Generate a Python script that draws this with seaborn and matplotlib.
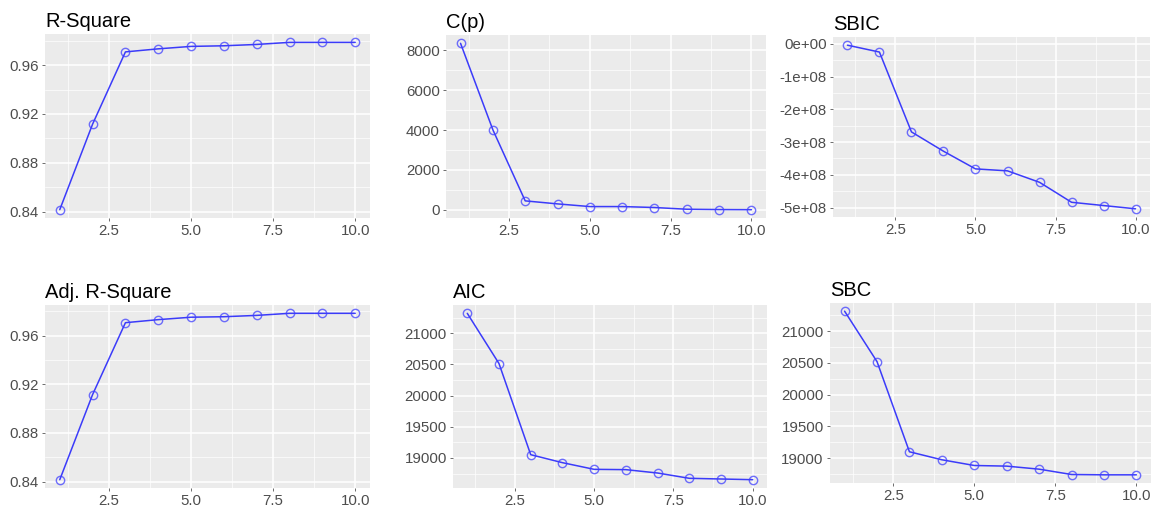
import numpy as np
import pandas as pd
import matplotlib
matplotlib.use("Agg")
import matplotlib.pyplot as plt
from matplotlib.ticker import FixedLocator, FuncFormatter
import seaborn as sns

n_predictors = [1, 2, 3, 4, 5, 6, 7, 8, 9, 10]
rsquare = [0.8417, 0.9117, 0.9708, 0.9733, 0.9753, 0.9758, 0.9769, 0.9786, 0.9786, 0.9786]
adj_rsquare = [0.8416, 0.9116, 0.9707, 0.9732, 0.9752, 0.9756, 0.9767, 0.9784, 0.9784, 0.9784]
cp = [8340, 4010, 452, 301, 167, 167, 120, 33, 17, 11]
sbic = [-4e6, -2.5e7, -2.69e8, -3.28e8, -3.82e8, -3.88e8, -4.23e8, -4.84e8, -4.94e8, -5.04e8]
aic = [21321, 20515, 19053, 18925, 18818, 18813, 18759, 18674, 18663, 18652]
sbc = [21316, 20521, 19100, 18974, 18884, 18874, 18826, 18742, 18737, 18737]

titles = ["R-Square", "C(p)", "SBIC", "Adj. R-Square", "AIC", "SBC"]
series = [rsquare, cp, sbic, adj_rsquare, aic, sbc]
yticks = [
    [0.84, 0.88, 0.92, 0.96],
    [0, 2000, 4000, 6000, 8000],
    [0, -1e8, -2e8, -3e8, -4e8, -5e8],
    [0.84, 0.88, 0.92, 0.96],
    [19000, 19500, 20000, 20500, 21000],
    [19000, 19500, 20000, 20500, 21000],
]
xticks = [2.5, 5.0, 7.5, 10.0]

sns.set_theme(style="darkgrid", rc={
    "axes.facecolor": "#EBEBEB",
    "grid.color": "white",
})
plt.rcParams["font.family"] = ["Liberation Sans", "DejaVu Sans"]

W, H = 1154, 511
fig = plt.figure(figsize=(W / 100, H / 100), dpi=100)
fig.patch.set_facecolor("white")

# panel boxes in pixels: left, top, right, bottom
boxes = [
    (45, 34, 370, 218),
    (446, 35, 766, 218),
    (833, 37, 1150, 217),
    (45, 305, 370, 488),
    (453, 305, 767, 488),
    (830, 303, 1151, 483),
]

def sbic_fmt(v, pos):
    if abs(v) < 1:
        return "0e+00"
    m = v / 1e8
    return f"{int(round(m))}e+08"

for i, (title, vals, yt, box) in enumerate(zip(titles, series, yticks, boxes)):
    l, t, r, b = box
    ax = fig.add_axes([l / W, 1 - b / H, (r - l) / W, (b - t) / H])
    df = pd.DataFrame({"x": n_predictors, "y": vals})
    sns.lineplot(data=df, x="x", y="y", ax=ax, color="blue", linewidth=1.1,
                 alpha=0.75, marker="o", markersize=6, markerfacecolor="none",
                 markeredgecolor=(0.25, 0.25, 1.0, 0.55), markeredgewidth=1.0)
    xmin, xmax = 1, 10
    xr = xmax - xmin
    ax.set_xlim(xmin - 0.05 * xr, xmax + 0.05 * xr)
    ymin, ymax = min(vals), max(vals)
    yr = ymax - ymin
    ax.set_ylim(ymin - 0.05 * yr, ymax + 0.05 * yr)
    ax.xaxis.set_major_locator(FixedLocator(xticks))
    ax.xaxis.set_minor_locator(FixedLocator([1.25, 3.75, 6.25, 8.75]))
    ax.yaxis.set_major_locator(FixedLocator(yt))
    step = yt[1] - yt[0]
    ax.yaxis.set_minor_locator(FixedLocator([y + step / 2 for y in yt] + [yt[0] - step / 2]))
    ax.xaxis.set_major_formatter(FuncFormatter(lambda v, p: f"{v:.1f}"))
    if title == "SBIC":
        ax.yaxis.set_major_formatter(FuncFormatter(sbic_fmt))
    elif "R-Square" in title:
        ax.yaxis.set_major_formatter(FuncFormatter(lambda v, p: f"{v:.2f}"))
    else:
        ax.yaxis.set_major_formatter(FuncFormatter(lambda v, p: f"{int(round(v))}"))
    ax.grid(which="major", color="white", linewidth=1.1)
    ax.grid(which="minor", color="white", linewidth=0.5)
    ax.tick_params(which="major", axis="both", labelsize=10.8, labelcolor="#4D4D4D",
                   color="#333333", length=2.5, width=0.5, direction="out", pad=2, left=True, bottom=True)
    ax.tick_params(which="minor", length=0)
    for s in ax.spines.values():
        s.set_visible(False)
    ax.set_xlabel("")
    ax.set_ylabel("")
    ax.set_title(title, loc="left", fontsize=14.5, color="black", pad=5)

fig.savefig("out.png", dpi=100, facecolor="white")
